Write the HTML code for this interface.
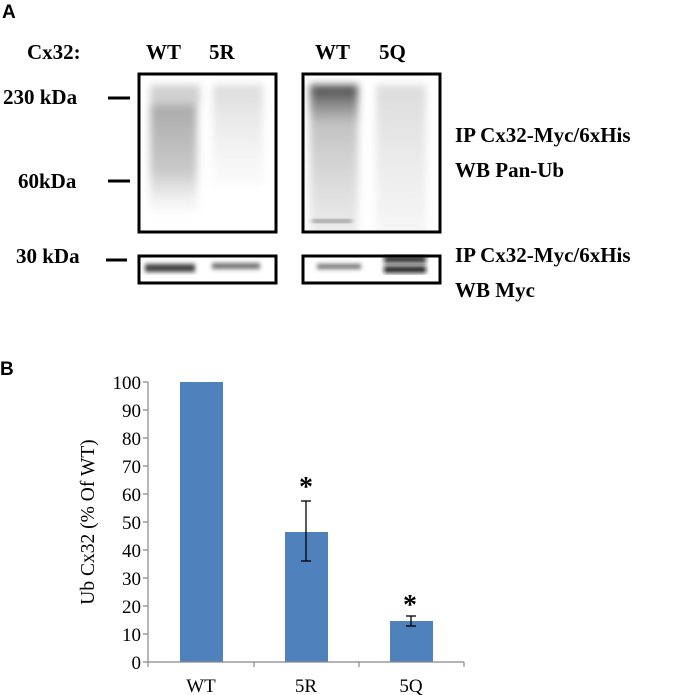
<!DOCTYPE html>
<html><head><style>
body{margin:0;background:#fff;}
svg{display:block;}
text{font-family:"Liberation Serif",serif;}
</style></head><body>
<svg width="685" height="695" viewBox="0 0 685 695" xmlns="http://www.w3.org/2000/svg">
<defs>
<filter id="b4"><feGaussianBlur stdDeviation="4"/></filter>
<filter id="b2"><feGaussianBlur stdDeviation="2"/></filter>
<clipPath id="c1"><rect x="140" y="75" width="135" height="156"/></clipPath>
<clipPath id="c2"><rect x="304" y="75" width="135" height="156"/></clipPath>
<linearGradient id="wt1" x1="0" y1="0" x2="0" y2="1">
<stop offset="0" stop-color="#555" stop-opacity="0.5"/><stop offset="0.6" stop-color="#666" stop-opacity="0.35"/><stop offset="1" stop-color="#999" stop-opacity="0"/></linearGradient>
<linearGradient id="wt2" x1="0" y1="0" x2="0" y2="1">
<stop offset="0" stop-color="#222" stop-opacity="0.85"/><stop offset="0.2" stop-color="#666" stop-opacity="0.4"/><stop offset="1" stop-color="#aaa" stop-opacity="0.08"/></linearGradient>
<linearGradient id="lt" x1="0" y1="0" x2="0" y2="1">
<stop offset="0" stop-color="#999" stop-opacity="0.35"/><stop offset="1" stop-color="#ccc" stop-opacity="0.08"/></linearGradient>
</defs>
<text x="2" y="18" font-weight="bold" font-size="19" style="font-family:'Liberation Sans',sans-serif">A</text>
<g font-weight="bold" font-size="21">
<text x="27" y="59">Cx32:</text>
<text x="146" y="59">WT</text><text x="209" y="59">5R</text>
<text x="315" y="59">WT</text><text x="379" y="59">5Q</text>
</g>
<g font-weight="bold" font-size="21">
<text x="3" y="104">230 kDa</text>
<text x="18" y="188">60kDa</text>
<text x="16" y="263">30 kDa</text>
</g>
<g stroke="#000" stroke-width="3">
<line x1="108" y1="98" x2="130" y2="98"/>
<line x1="108" y1="181" x2="130" y2="181"/>
<line x1="106" y1="260" x2="127" y2="260"/>
</g>
<g clip-path="url(#c1)"><g filter="url(#b4)">
<rect x="150" y="105" width="47" height="110" fill="url(#wt1)"/>
<rect x="150" y="85" width="50" height="20" fill="#777" opacity="0.35"/>
<rect x="213" y="85" width="50" height="100" fill="url(#lt)"/>
</g></g>
<g clip-path="url(#c2)"><g filter="url(#b4)">
<rect x="310" y="85" width="48" height="195" fill="url(#wt2)"/>
<rect x="376" y="85" width="50" height="195" fill="url(#lt)"/>
</g>
<g filter="url(#b2)"><rect x="312" y="219" width="40" height="4" fill="#444" opacity="0.5"/></g></g>
<g filter="url(#b2)">
<rect x="145" y="264" width="50" height="8" fill="#222" opacity="0.85"/>
<rect x="212" y="263" width="48" height="6" fill="#333" opacity="0.7"/>
<rect x="317" y="264" width="44" height="5" fill="#333" opacity="0.7"/>
<rect x="384" y="256" width="42" height="7" fill="#111" opacity="0.85"/>
<rect x="384" y="266" width="42" height="7" fill="#111" opacity="0.9"/>
</g>
<g fill="none" stroke="#000" stroke-width="3">
<rect x="139" y="74" width="137" height="158"/>
<rect x="303" y="74" width="137" height="158"/>
<rect x="139" y="256" width="137" height="27"/>
<rect x="303" y="256" width="137" height="27"/>
</g>
<g font-weight="bold" font-size="21">
<text x="455" y="142">IP Cx32-Myc/6xHis</text>
<text x="455" y="177">WB Pan-Ub</text>
<text x="455" y="262">IP Cx32-Myc/6xHis</text>
<text x="455" y="297">WB Myc</text>
</g>
<text x="0" y="375" font-weight="bold" font-size="19" style="font-family:'Liberation Sans',sans-serif">B</text>
<g fill="#4f81bd">
<rect x="180" y="382" width="43" height="280"/>
<rect x="285" y="532" width="43" height="130"/>
<rect x="390" y="621" width="43" height="41"/>
</g>
<g stroke="#888" stroke-width="1.2" fill="none">
<line x1="148" y1="382" x2="148" y2="667"/>
<line x1="143" y1="662" x2="464" y2="662"/>
<line x1="254" y1="662" x2="254" y2="667"/>
<line x1="359" y1="662" x2="359" y2="667"/>
<line x1="464" y1="662" x2="464" y2="667"/>
<path d="M143 382H148M143 410H148M143 438H148M143 466H148M143 494H148M143 522H148M143 550H148M143 578H148M143 606H148M143 634H148"/>
</g>
<g stroke="#000" stroke-width="1.3">
<line x1="306" y1="501" x2="306" y2="561"/><line x1="301" y1="501" x2="311" y2="501"/><line x1="301" y1="561" x2="311" y2="561"/>
<line x1="411" y1="616" x2="411" y2="626"/><line x1="406" y1="616" x2="416" y2="616"/><line x1="406" y1="626" x2="416" y2="626"/>
</g>
<g font-size="28" font-weight="bold" text-anchor="middle" style="font-family:'Liberation Sans',sans-serif">
<text x="306" y="496">*</text><text x="410" y="614">*</text>
</g>
<g font-size="19" text-anchor="end">
<text x="141" y="389">100</text><text x="141" y="417">90</text><text x="141" y="445">80</text>
<text x="141" y="473">70</text><text x="141" y="501">60</text><text x="141" y="529">50</text>
<text x="141" y="557">40</text><text x="141" y="585">30</text><text x="141" y="613">20</text>
<text x="141" y="641">10</text><text x="141" y="669">0</text>
</g>
<g font-size="19" text-anchor="middle">
<text x="201" y="692">WT</text><text x="306" y="692">5R</text><text x="411" y="692">5Q</text>
</g>
<text transform="translate(94,522) rotate(-90)" font-size="19.5" text-anchor="middle">Ub Cx32 (% Of WT)</text>
</svg>
</body></html>
